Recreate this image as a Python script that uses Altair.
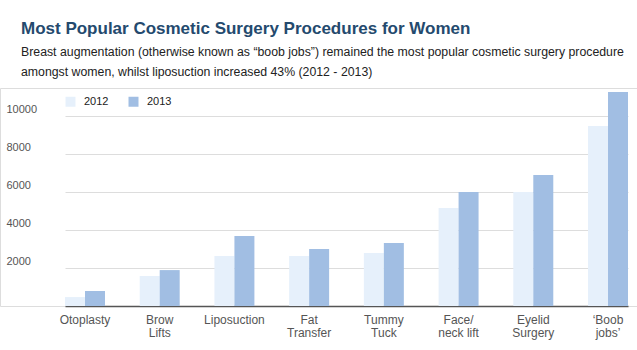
import altair as alt
import pandas as pd

procedures = ["Otoplasty", "Brow\nLifts", "Liposuction", "Fat\nTransfer", "Tummy\nTuck",
              "Face/\nneck lift", "Eyelid\nSurgery", "\u2018Boob\njobs\u2019"]
values_2012 = [470, 1580, 2630, 2630, 2790, 5160, 6000, 9470]
values_2013 = [790, 1890, 3690, 3000, 3320, 6000, 6890, 11260]
years = ["2012", "2013"]
y_ticks = [2000, 4000, 6000, 8000, 10000]

rows = []
for p, a, b in zip(procedures, values_2012, values_2013):
    rows.append({"procedure": p, "year": years[0], "value": a})
    rows.append({"procedure": p, "year": years[1], "value": b})
df = pd.DataFrame(rows)

FONT = "Liberation Sans"

chart = alt.Chart(df).mark_bar().encode(
    x=alt.X("procedure:N", sort=procedures,
            scale=alt.Scale(range=[65, 628], paddingInner=0.465, paddingOuter=0),
            axis=alt.Axis(title=None, labelAngle=0, ticks=False, labelPadding=8,
                          labelExpr="split(datum.label, '\\n')",
                          labelFont=FONT, labelFontSize=12, labelColor="#555555",
                          labelLineHeight=13, labelBaseline="top",
                          domainColor="#555555", domainWidth=1.5, grid=False)),
    xOffset=alt.XOffset("year:N", sort=years, scale=alt.Scale(paddingInner=0, paddingOuter=0)),
    y=alt.Y("value:Q", scale=alt.Scale(domain=[0, 11474], nice=False, zero=True),
            axis=alt.Axis(title=None, values=y_ticks, format="d", ticks=False, domain=False,
                          labelAlign="left", labelPadding=-6, labelBaseline="alphabetic",
                          labelOffset=-4, labelFont=FONT, labelFontSize=11,
                          labelColor="#555555", gridColor="#dddddd", gridWidth=1)),
    color=alt.Color("year:N", sort=years,
                    scale=alt.Scale(domain=years, range=["#e6f0fb", "#a1bee3"]),
                    legend=alt.Legend(title=None, orient="none", legendX=65, legendY=8,
                                      direction="horizontal", symbolType="square",
                                      symbolSize=100, symbolStrokeWidth=0,
                                      labelFont=FONT, labelFontSize=11, labelColor="#222222",
                                      labelOffset=8, columnPadding=19)),
).properties(
    width=637,
    height=218,
    title=alt.TitleParams(
        text="Most Popular Cosmetic Surgery Procedures for Women",
        subtitle=["Breast augmentation (otherwise known as \u201cboob jobs\u201d) remained the most popular cosmetic surgery procedure",
                  "amongst women, whilst liposuction increased 43% (2012 - 2013)"],
        anchor="start", frame="group", dx=21, offset=9,
        font=FONT, fontSize=17, fontWeight="bold", color="#244a6e",
        subtitleFont=FONT, subtitleFontSize=12.3, subtitleColor="#222222",
        subtitleLineHeight=20, subtitlePadding=8,
    ),
    autosize=alt.AutoSizeParams(type="none"),
    padding={"left": 0, "top": 88, "right": 0, "bottom": 44},
).configure_view(stroke=None).configure(background="white")

chart.save("out.html", embed_options={"renderer": "svg", "actions": False})
